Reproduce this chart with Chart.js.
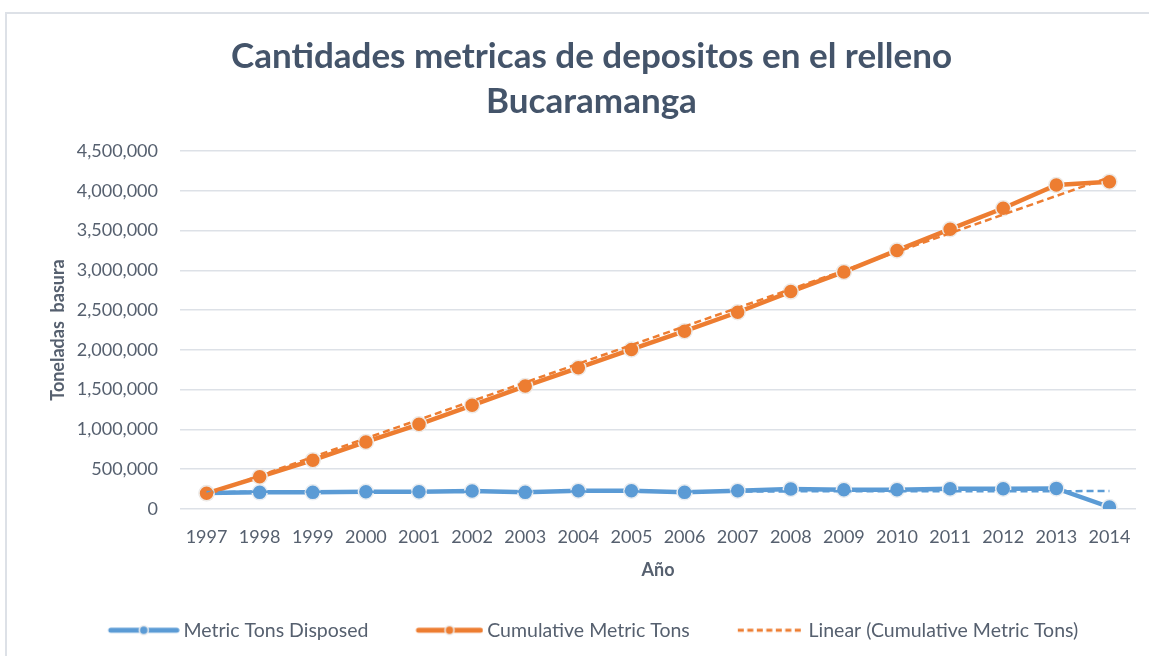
<!DOCTYPE html>
<html>
<head>
<meta charset="utf-8">
<title>Cantidades metricas de depositos en el relleno Bucaramanga</title>
<script src="https://cdn.jsdelivr.net/npm/chart.js@4/dist/chart.umd.min.js"></script>
<style>
    html, body { margin: 0; padding: 0; background: #ffffff; overflow: hidden; }
    #wrap { position: relative; width: 1149px; height: 656px; }
    #frame {
        position: absolute; left: 5px; top: 12px; width: 1200px; height: 700px;
        border: 2px solid #dde1e7; box-sizing: border-box; pointer-events: none;
    }
    canvas { position: absolute; left: 0; top: 0; }
</style>
</head>
<body>
<div id="wrap">
    <canvas id="chart" width="1149" height="656"></canvas>
    <div id="frame"></div>
</div>
<script>
// Years on the x axis
const years = ['1997', '1998', '1999', '2000', '2001', '2002', '2003', '2004', '2005',
               '2006', '2007', '2008', '2009', '2010', '2011', '2012', '2013', '2014'];

// Tons disposed per year
const metricTonsDisposed = [200000, 209000, 209000, 217000, 217000, 226000, 209000, 230000, 230000,
                            209000, 230000, 251000, 242000, 242000, 255000, 255000, 259000, 25000];

// Running total of tons
const cumulativeMetricTons = [197000, 405000, 614000, 843000, 1065000, 1303000, 1545000, 1775000, 2005000,
                              2235000, 2473000, 2733000, 2980000, 3250000, 3517000, 3780000, 4073000, 4114000];

// Trendline end points (first and last year)
const cumulativeTrend = [185000, 4170000];
const disposedTrend = [215000, 225000];

// Y axis ticks
const yTicks = [0, 500000, 1000000, 1500000, 2000000, 2500000, 3000000, 3500000, 4000000, 4500000];

const BLUE = '#5b9bd5';
const ORANGE = '#ed7d31';
const TEXT = '#56606f';
const FONT = 'Lato, "Liberation Sans", sans-serif';

// Legend symbols: 81px wide canvases, left part left empty so the
// symbol sits right before its text and items get a wider gap
function lineMarkerSymbol(color, from) {
    const c = document.createElement('canvas');
    c.width = 81;
    c.height = 14;
    const g = c.getContext('2d');
    g.strokeStyle = color;
    g.lineWidth = 5;
    g.lineCap = 'round';
    g.beginPath();
    g.moveTo(from, 7);
    g.lineTo(78, 7);
    g.stroke();
    g.fillStyle = color;
    g.strokeStyle = '#eeeeee';
    g.lineWidth = 1.5;
    g.beginPath();
    g.arc((from + 78) / 2, 7, 4.5, 0, Math.PI * 2);
    g.fill();
    g.stroke();
    return c;
}

function dashedSymbol(color) {
    const c = document.createElement('canvas');
    c.width = 81;
    c.height = 10;
    const g = c.getContext('2d');
    g.strokeStyle = color;
    g.lineWidth = 3;
    g.setLineDash([6, 3.5]);
    g.beginPath();
    g.moveTo(14, 5);
    g.lineTo(79, 5);
    g.stroke();
    return c;
}

const legendSymbols = [lineMarkerSymbol(BLUE, 12), lineMarkerSymbol(ORANGE, 16), dashedSymbol(ORANGE)];

const ctx = document.getElementById('chart').getContext('2d');

new Chart(ctx, {
    type: 'line',
    data: {
        labels: years,
        datasets: [
            {
                label: 'Metric Tons Disposed',
                data: metricTonsDisposed,
                borderColor: BLUE,
                backgroundColor: BLUE,
                borderWidth: 4.5,
                pointRadius: 7.5,
                pointBackgroundColor: BLUE,
                pointBorderColor: '#e9edf1',
                pointBorderWidth: 1.5,
                tension: 0,
                order: 4
            },
            {
                label: 'Cumulative Metric Tons',
                data: cumulativeMetricTons,
                borderColor: ORANGE,
                backgroundColor: ORANGE,
                borderWidth: 4.5,
                pointRadius: 7.5,
                pointBackgroundColor: ORANGE,
                pointBorderColor: '#eeeae6',
                pointBorderWidth: 1.5,
                tension: 0,
                order: 3
            },
            {
                label: 'Linear (Cumulative Metric Tons)',
                data: [
                    { x: years[0], y: cumulativeTrend[0] },
                    { x: years[years.length - 1], y: cumulativeTrend[1] }
                ],
                borderColor: ORANGE,
                backgroundColor: ORANGE,
                borderWidth: 2.5,
                borderDash: [7, 4],
                pointRadius: 0,
                order: 1
            },
            {
                label: 'Linear (Metric Tons Disposed)',
                data: [
                    { x: years[0], y: disposedTrend[0] },
                    { x: years[years.length - 1], y: disposedTrend[1] }
                ],
                borderColor: BLUE,
                backgroundColor: BLUE,
                borderWidth: 2.5,
                borderDash: [7, 4],
                pointRadius: 0,
                order: 2
            }
        ]
    },
    options: {
        responsive: false,
        animation: false,
        layout: {
            padding: { top: 34, left: 47, right: 13, bottom: 6 }
        },
        plugins: {
            title: {
                display: true,
                text: ['Cantidades metricas de depositos en el relleno', 'Bucaramanga'],
                color: '#44546a',
                font: { family: FONT, size: 35, weight: 'bold', lineHeight: 1.29 },
                padding: { top: 0, bottom: 26.7 }
            },
            legend: {
                position: 'bottom',
                labels: {
                    usePointStyle: true,
                    pointStyleWidth: 69,
                    padding: 40,
                    color: TEXT,
                    font: { family: FONT, size: 19.5 },
                    generateLabels: chart => chart.data.datasets
                        .map((ds, i) => ({
                            text: ds.label,
                            datasetIndex: i,
                            pointStyle: legendSymbols[i],
                            fillStyle: ds.borderColor,
                            strokeStyle: ds.borderColor,
                            fontColor: TEXT,
                            lineWidth: 0,
                            hidden: false
                        }))
                        .filter(item => item.datasetIndex < 3)
                }
            },
            tooltip: { enabled: false }
        },
        scales: {
            x: {
                offset: true,
                grid: { display: false, drawTicks: false },
                border: { display: false },
                ticks: {
                    color: TEXT,
                    padding: 17,
                    maxRotation: 0,
                    autoSkip: false,
                    font: { family: FONT, size: 18 }
                },
                title: {
                    display: true,
                    text: 'Año',
                    color: TEXT,
                    font: { family: FONT, size: 18, weight: 'bold' },
                    padding: { top: 0, bottom: 0 }
                },
                afterFit: scale => { scale.height = 71.5; }
            },
            y: {
                min: 0,
                max: 4500000,
                afterBuildTicks: scale => { scale.ticks = yTicks.map(v => ({ value: v })); },
                grid: { color: '#dde1e7', lineWidth: 1.5, drawTicks: false },
                border: { display: false },
                ticks: {
                    color: TEXT,
                    padding: 22,
                    font: { family: FONT, size: 18 },
                    callback: value => value.toLocaleString('en-US')
                },
                title: {
                    display: true,
                    text: 'Toneladas  basura',
                    color: TEXT,
                    font: { family: FONT, size: 18, weight: 'bold' },
                    padding: { top: 0, bottom: 0 }
                },
                afterFit: scale => { scale.width = 133; }
            }
        }
    }
});
</script>
</body>
</html>
